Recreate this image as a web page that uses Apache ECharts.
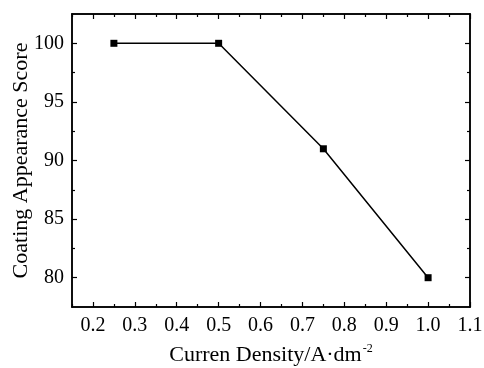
<!DOCTYPE html>
<html>
<head>
<meta charset="utf-8">
<script src="https://cdn.jsdelivr.net/npm/echarts@6/dist/echarts.min.js"></script>
<style>
  html, body { margin: 0; padding: 0; background: #fff; }
  #chart { width: 484px; height: 368px; }
</style>
</head>
<body>
<div id="chart"></div>
<script>
// data
const currentDensity = [0.25, 0.5, 0.75, 1.0];
const appearanceScore = [100, 100, 91, 80];

const xMajorTicks = [0.2, 0.3, 0.4, 0.5, 0.6, 0.7, 0.8, 0.9, 1.0, 1.1];
const xMinorTicks = [0.15, 0.25, 0.35, 0.45, 0.55, 0.65, 0.75, 0.85, 0.95, 1.05];
const yMajorTicks = [80, 85, 90, 95, 100];
const yMinorTicks = [82.5, 87.5, 92.5, 97.5];

const font = "'Liberation Serif', 'DejaVu Serif', serif";
const black = "#000";

function xAxis(position, ticks, len, showLabels, name) {
  return {
    type: "value",
    position: position,
    min: 0.15,
    max: 1.1,
    name: name || "",
    nameLocation: "middle",
    nameGap: 36,
    nameMoveOverlap: false,
    nameTextStyle: {
      fontFamily: font, fontSize: 22, color: black,
      rich: { sup: { fontFamily: font, fontSize: 12, color: black, verticalAlign: "top", padding: [0, 0, 12, 1] } }
    },
    axisLine: { show: true, onZero: false, lineStyle: { color: black, width: 1.5 } },
    axisTick: { show: true, inside: true, length: len, customValues: ticks, lineStyle: { color: black, width: 1.2 } },
    axisLabel: {
      show: showLabels, customValues: ticks, margin: 9,
      fontFamily: font, fontSize: 20, color: black,
      formatter: v => Number(v).toFixed(1)
    },
    splitLine: { show: false }
  };
}

function yAxis(position, ticks, len, showLabels, name) {
  return {
    type: "value",
    position: position,
    min: 77.5,
    max: 102.5,
    name: name || "",
    nameLocation: "middle",
    nameGap: 40,
    nameMoveOverlap: false,
    nameTextStyle: { fontFamily: font, fontSize: 22, color: black },
    axisLine: { show: true, onZero: false, lineStyle: { color: black, width: 1.5 } },
    axisTick: { show: true, inside: true, length: len, customValues: ticks, lineStyle: { color: black, width: 1.2 } },
    axisLabel: {
      show: showLabels, customValues: ticks, margin: 8,
      fontFamily: font, fontSize: 20, color: black,
      formatter: v => String(Math.round(v))
    },
    splitLine: { show: false }
  };
}

const chart = echarts.init(document.getElementById("chart"), null, { renderer: "canvas" });
chart.setOption({
  animation: false,
  backgroundColor: "#fff",
  grid: { left: 72, right: 14, top: 14, bottom: 61, containLabel: false, outerBoundsMode: "none" },
  xAxis: [
    xAxis("bottom", xMajorTicks, 5, true, "Curren Density/A·dm{sup|-2}"),
    xAxis("bottom", xMinorTicks, 3, false),
    xAxis("top", xMajorTicks, 5, false),
    xAxis("top", xMinorTicks, 3, false)
  ],
  yAxis: [
    yAxis("left", yMajorTicks, 5, true, "Coating Appearance Score"),
    yAxis("left", yMinorTicks, 3, false),
    yAxis("right", yMajorTicks, 5, false),
    yAxis("right", yMinorTicks, 3, false)
  ],
  series: [{
    type: "line",
    xAxisIndex: 0,
    yAxisIndex: 0,
    data: currentDensity.map((x, i) => [x, appearanceScore[i]]),
    symbol: "rect",
    symbolSize: 7,
    itemStyle: { color: black },
    lineStyle: { color: black, width: 1.5 }
  }]
});
</script>
</body>
</html>
